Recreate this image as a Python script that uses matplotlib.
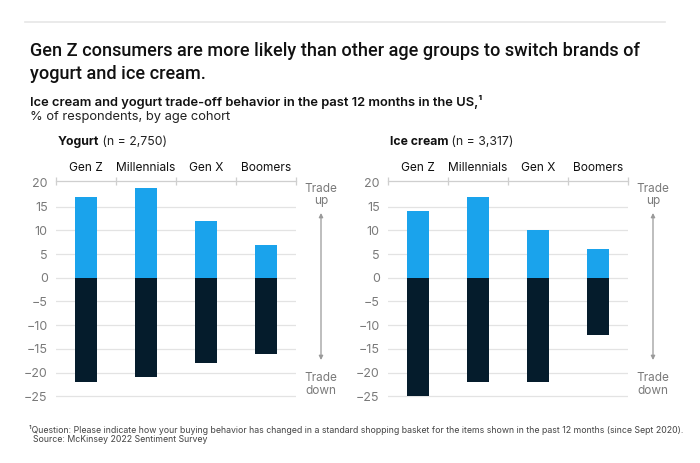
import numpy as np
import matplotlib.pyplot as plt

plt.rcParams['font.family'] = ['Inter', 'DejaVu Sans']

cohorts = ["Gen Z", "Millennials", "Gen X", "Boomers"]
yogurt_up = [17, 19, 12, 7]
yogurt_down = [-22, -21, -18, -16]
icecream_up = [14, 17, 10, 6]
icecream_down = [-25, -22, -22, -12]
y_ticks = [20, 15, 10, 5, 0, -5, -10, -15, -20, -25]

LIGHT = '#1aa3ec'
DARK = '#051c2c'
GRID = '#e3e3e3'
GREY = '#7a7a7a'

W, H = 700, 463
fig = plt.figure(figsize=(7, 4.63), dpi=100)


def fx(px):
    return px / W


def fy(py):
    return 1 - py / H


# top rule
fig.add_artist(plt.Line2D([fx(25), fx(665)], [fy(22), fy(22)], color='#e6e6e6', lw=1.2))

title_font = ['Roboto', 'DejaVu Sans']
fig.text(fx(30), fy(51), "Gen Z consumers are more likely than other age groups to switch brands of",
         fontsize=13.1, weight='medium', family=title_font, va='center', color='#111111')
fig.text(fx(30), fy(74), "yogurt and ice cream.",
         fontsize=13.1, weight='medium', family=title_font, va='center', color='#111111')
fig.text(fx(30), fy(102), "Ice cream and yogurt trade-off behavior in the past 12 months in the US,¹",
         fontsize=9.3, weight='semibold', va='center', color='#111111')
fig.text(fx(30), fy(117), "% of respondents, by age cohort",
         fontsize=9.3, va='center', color='#222222')


def panel(left, name, n_label, up, down, arrow_x):
    ax = fig.add_axes([fx(left), fy(401), fx(240), (401 - 181) / H])
    x = np.arange(len(cohorts))
    ax.bar(x, up, width=0.37, color=LIGHT, zorder=3)
    ax.bar(x, down, width=0.37, color=DARK, zorder=3)
    ax.set_xlim(-0.5, 3.5)
    ax.set_ylim(-26, 20.4)
    ax.set_yticks(y_ticks)
    ax.set_yticklabels([str(v).replace('-', '\u2212') for v in y_ticks])
    for v in y_ticks[1:]:
        ax.axhline(v, color=GRID, lw=0.9, zorder=1)
    for s in ['left', 'right', 'bottom']:
        ax.spines[s].set_visible(False)
    ax.spines['top'].set_color('#cfcfcf')
    ax.spines['top'].set_linewidth(0.9)
    ax.tick_params(axis='y', length=0, labelsize=9, labelcolor=GREY, pad=6)
    ax.xaxis.set_ticks_position('top')
    ax.set_xticks([-0.5, 0.5, 1.5, 2.5, 3.5])
    ax.set_xticklabels([])
    ax.tick_params(axis='x', direction='inout', length=6, color='#cfcfcf', width=0.9)
    for i, c in enumerate(cohorts):
        ax.text(i, 1.03, c, transform=ax.get_xaxis_transform(), ha='center',
                va='bottom', fontsize=8.6, color='#111111')
    t = fig.text(fx(left + 2), fy(142), name, fontsize=8.8, weight='bold',
                 va='center', color='#111111')
    ax.annotate(" " + n_label, xy=(1, 0.5), xycoords=t, va='center',
                fontsize=8.8, color='#222222')
    # trade up / down arrow
    fig.text(fx(arrow_x), fy(189), "Trade", ha='center', va='center', fontsize=8.5, color=GREY)
    fig.text(fx(arrow_x), fy(201), "up", ha='center', va='center', fontsize=8.5, color=GREY)
    fig.text(fx(arrow_x), fy(378), "Trade", ha='center', va='center', fontsize=8.5, color=GREY)
    fig.text(fx(arrow_x), fy(391), "down", ha='center', va='center', fontsize=8.5, color=GREY)
    ax.annotate("", xy=(fx(arrow_x), fy(213)), xytext=(fx(arrow_x), fy(360)),
                xycoords='figure fraction', textcoords='figure fraction',
                arrowprops=dict(arrowstyle='<|-|>', color='#9a9a9a', lw=0.9,
                                mutation_scale=6, shrinkA=0, shrinkB=0))
    return ax


panel(56, "Yogurt", "(n = 2,750)", yogurt_up, yogurt_down, 321)
panel(388, "Ice cream", "(n = 3,317)", icecream_up, icecream_down, 653)

fig.text(fx(29), fy(430), "¹Question: Please indicate how your buying behavior has changed in a standard shopping basket for the items shown in the past 12 months (since Sept 2020).",
         fontsize=6.3, va='center', color='#444444')
fig.text(fx(33), fy(439), "Source: McKinsey 2022 Sentiment Survey",
         fontsize=6.3, va='center', color='#444444')

fig.savefig('out.png', dpi=100, facecolor='white')
